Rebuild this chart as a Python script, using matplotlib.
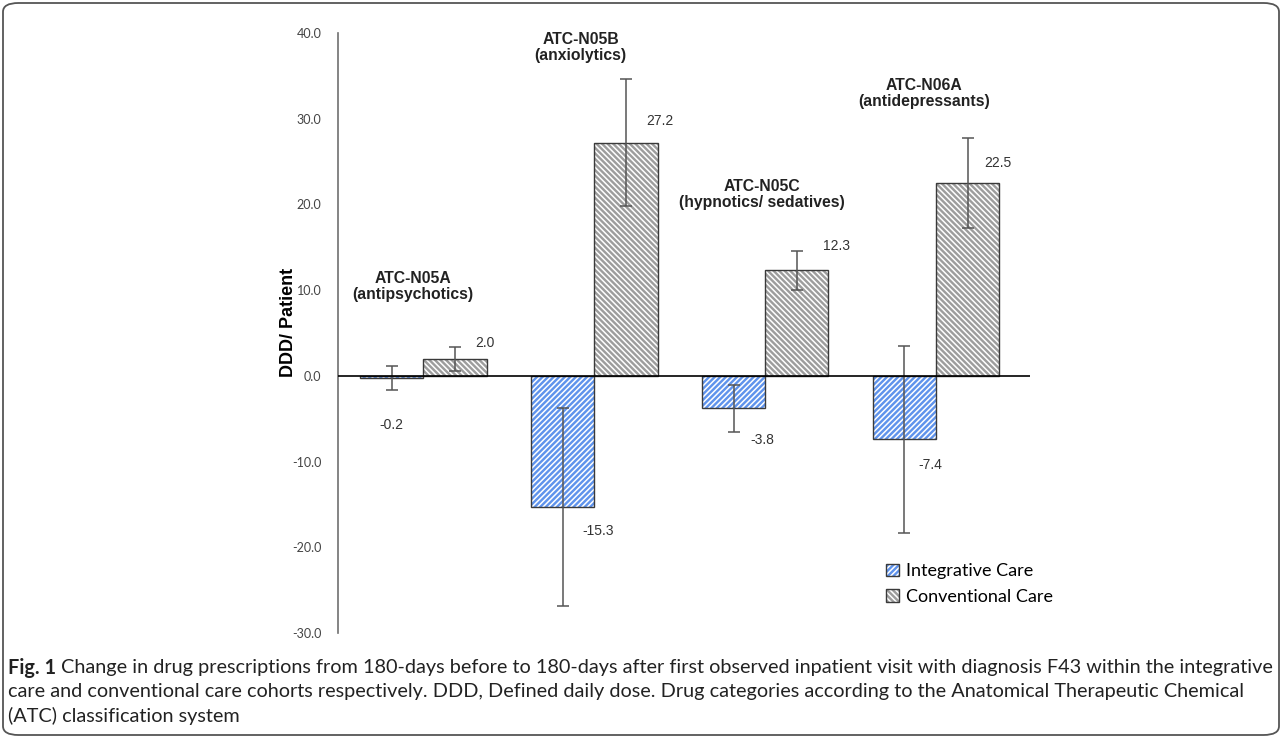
import matplotlib.pyplot as plt
import numpy as np
from matplotlib.patches import Patch, FancyBboxPatch
from matplotlib.legend_handler import HandlerTuple

# data
categories = ['ATC-N05A\n(antipsychotics)', 'ATC-N05B\n(anxiolytics)',
              'ATC-N05C\n(hypnotics/ sedatives)', 'ATC-N06A\n(antidepressants)']
integrative = [-0.2, -15.3, -3.8, -7.4]
conventional = [2.0, 27.2, 12.3, 22.5]
integrative_err = [1.4, 11.5, 2.7, 10.9]
conventional_err = [1.4, 7.4, 2.3, 5.2]
series_names = ['Integrative Care', 'Conventional Care']
yticks = np.arange(-30, 41, 10)

caption_lines = [
    'Change in drug prescriptions from 180-days before to 180-days after first observed inpatient visit with diagnosis F43 within the integrative',
    'care and conventional care cohorts respectively. DDD, Defined daily dose. Drug categories according to the Anatomical Therapeutic Chemical',
    '(ATC) classification system',
]

# layout (label offsets in pixels, title placement)
integ_lbl_off = [(0, -47), (35, -24), (29, -32), (26, -26)]
conv_lbl_off = [(30, 16), (34, 22), (40, 24), (30, 20)]
title_dx = [-0.06, -0.08, -0.02, -0.07]
title_y = [10.4, 38.3, 21.2, 32.9]

blue = '#5f93ec'
gray = '#9d9d9d'
hatch_i = '//////'
hatch_c = '\\\\\\\\\\\\'
plt.rcParams['hatch.linewidth'] = 1.1

fig = plt.figure(figsize=(12.82, 7.38), dpi=100)
ax = fig.add_axes([338 / 1282, 1 - 633 / 738, 692 / 1282, 600 / 738])

x = np.arange(len(categories))
w = 0.37

# hatched fill layer (hatch takes the edge colour) + outline layer
ax.bar(x - w / 2, integrative, w, color=blue, edgecolor='white', hatch=hatch_i, linewidth=0, zorder=2)
ax.bar(x + w / 2, conventional, w, color=gray, edgecolor='white', hatch=hatch_c, linewidth=0, zorder=2)
ax.bar(x - w / 2, integrative, w, fill=False, edgecolor='#3a3a3a', linewidth=1, zorder=3)
ax.bar(x + w / 2, conventional, w, fill=False, edgecolor='#3a3a3a', linewidth=1, zorder=3)

ax.errorbar(x - w / 2, integrative, yerr=integrative_err, fmt='none', ecolor='#555555',
            elinewidth=1.1, capsize=4, capthick=1.1, zorder=4)
ax.errorbar(x + w / 2, conventional, yerr=conventional_err, fmt='none', ecolor='#555555',
            elinewidth=1.1, capsize=4, capthick=1.1, zorder=4)

ax.axhline(0, color='black', linewidth=1.2, zorder=5)

px2pt = 72 / 100
for i in range(len(categories)):
    dx, dy = integ_lbl_off[i]
    ax.annotate(f'{integrative[i]:.1f}', (x[i] - w / 2, integrative[i]),
                xytext=(dx * px2pt, dy * px2pt), textcoords='offset points',
                ha='center', va='center', fontsize=10, color='#333333',
                family='Liberation Sans')
    dx, dy = conv_lbl_off[i]
    ax.annotate(f'{conventional[i]:.1f}', (x[i] + w / 2, conventional[i]),
                xytext=(dx * px2pt, dy * px2pt), textcoords='offset points',
                ha='center', va='center', fontsize=10, color='#333333',
                family='Liberation Sans')
    ax.text(x[i] + title_dx[i], title_y[i], categories[i], ha='center', va='center',
            fontsize=11.3, fontweight='bold', color='#222222', family='Liberation Sans',
            linespacing=1.1)

ax.set_xlim(-0.5, 3.55)
ax.set_ylim(-30, 40)
ax.set_xticks([])
ax.set_yticks(yticks)
ax.set_yticklabels([f'{v:.1f}' for v in yticks], family='Lato', fontsize=9, color='#444444')
ax.tick_params(axis='y', length=0, pad=12)
for s in ['top', 'right', 'bottom']:
    ax.spines[s].set_visible(False)
ax.spines['left'].set_color('#6f6f6f')
ax.spines['left'].set_linewidth(1.2)

ax.set_ylabel('DDD/ Patient', fontsize=13, fontweight='bold', family='Liberation Sans')
ax.yaxis.set_label_coords(-0.059, 0.518)

handles = [
    (Patch(facecolor=blue, edgecolor='white', hatch=hatch_i, linewidth=0),
     Patch(fill=False, edgecolor='#3a3a3a', linewidth=1)),
    (Patch(facecolor=gray, edgecolor='white', hatch=hatch_c, linewidth=0),
     Patch(fill=False, edgecolor='#3a3a3a', linewidth=1)),
]
fig.legend(handles, series_names, handler_map={tuple: HandlerTuple(ndivide=1, pad=0)},
           loc='center left', bbox_to_anchor=(886 / 1282, 1 - 584 / 738), frameon=False,
           prop={'family': 'Lato', 'size': 13}, handlelength=0.7, handleheight=0.7,
           handletextpad=0.4, labelspacing=0.5, borderpad=0, borderaxespad=0)

# caption, sized so the first line spans the frame width
fig.canvas.draw()
r = fig.canvas.get_renderer()
line_y = [668, 692, 716]
x0 = 8 / 1282
gap = 5
size0 = 12
bold = fig.text(x0, 1 - line_y[0] / 738, 'Fig. 1', fontsize=size0, fontweight='bold',
                family='Lato', va='center', color='#222222')
first = fig.text(0, 1 - line_y[0] / 738, caption_lines[0], fontsize=size0,
                 family='Lato', va='center', color='#222222')
total = bold.get_window_extent(r).width + first.get_window_extent(r).width
cap_size = size0 * (1266 - 8 - gap * 1.2) / total
bold.set_fontsize(cap_size)
first.set_fontsize(cap_size)
bw = bold.get_window_extent(r).width
first.set_x(x0 + (bw + gap) / 1282)
for ln, yy in zip(caption_lines[1:], line_y[1:]):
    fig.text(x0, 1 - yy / 738, ln, fontsize=cap_size, family='Lato', va='center', color='#222222')

# rounded frame
frame = FancyBboxPatch((3 / 1282, 3 / 738), 1276 / 1282, 732 / 738,
                       boxstyle='round,pad=0,rounding_size=0.012', transform=fig.transFigure,
                       fill=False, edgecolor='#555555', linewidth=1.3)
fig.patches.append(frame)

fig.savefig('out.png', dpi=100)
